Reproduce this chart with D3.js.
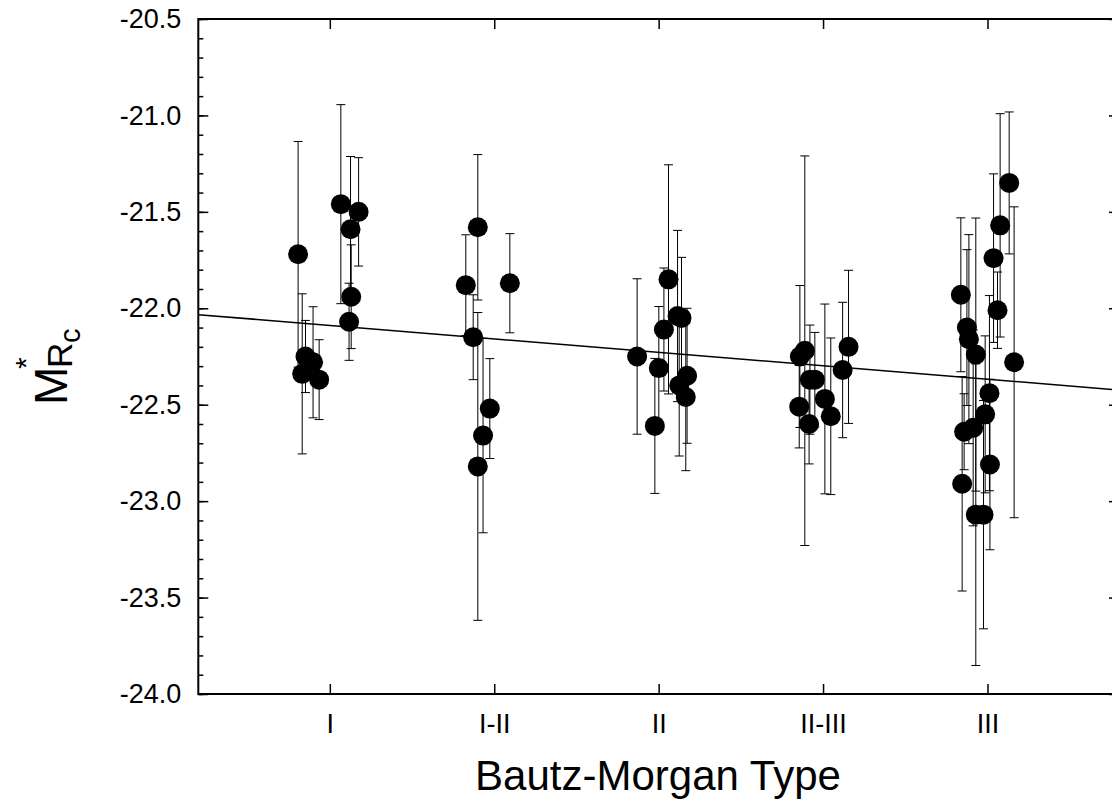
<!DOCTYPE html>
<html>
<head>
<meta charset="utf-8">
<script src="https://cdn.jsdelivr.net/npm/d3@7"></script>
<style>
  body { margin: 0; background: #fff; }
  svg { display: block; font-family: "Liberation Sans", Arial, sans-serif; }
  .axis path.domain { display: none; }
  .axis line { stroke: #000; stroke-width: 1.5; }
  .axis text { font-size: 27px; fill: #000; }
</style>
</head>
<body>
<script>
  var width = 1112;
  var height = 803;

  // Bautz-Morgan classes and their positions on the x axis
  var categories = ['I', 'I-II', 'II', 'II-III', 'III'];
  var catPos = [1, 2, 3, 4, 5];

  // y ticks
  var yMajor = [-20.5, -21.0, -21.5, -22.0, -22.5, -23.0, -23.5, -24.0];
  var yMinor = d3.range(-205, -241, -1).map(d => d / 10);

  // clusters: x position (slightly jittered around class), M*_Rc, error
  var bmX = [
    0.807, 0.852, 0.898, 0.832, 0.935, 1.067, 1.175, 1.126, 1.130, 1.117,
    1.900, 1.827, 2.095, 1.872, 1.973, 1.932, 1.900,
    2.869, 3.060, 3.032, 3.001, 2.977, 3.115, 3.139, 3.125, 3.173, 3.165,
    3.889, 3.859, 3.920, 3.950, 3.855, 3.915, 4.011, 4.047, 4.155, 4.119,
    5.132, 5.077, 5.037, 5.061, 4.838, 4.875, 4.887, 4.929, 5.162, 5.012,
    4.986, 4.858, 4.913, 5.015, 4.846, 4.929, 4.976
  ];
  var magR = [
    -21.72, -22.25, -22.28, -22.34, -22.37, -21.46, -21.50, -21.59, -21.94, -22.07,
    -21.58, -21.88, -21.87, -22.15, -22.52, -22.66, -22.82,
    -22.25, -21.85, -22.11, -22.31, -22.61, -22.04, -22.05, -22.40, -22.35, -22.46,
    -22.22, -22.25, -22.37, -22.37, -22.51, -22.60, -22.47, -22.56, -22.20, -22.32,
    -21.35, -21.57, -21.74, -22.01, -21.93, -22.10, -22.16, -22.24, -22.28, -22.44,
    -22.55, -22.64, -22.62, -22.81, -22.91, -23.07, -23.07
  ];
  var magErr = [
    0.585, 0.187, 0.288, 0.415, 0.207, 0.516, 0.281, 0.377, 0.269, 0.200,
    0.377, 0.261, 0.257, 0.220, 0.259, 0.504, 0.798,
    0.403, 0.594, 0.319, 0.319, 0.350, 0.444, 0.314, 0.366, 0.350, 0.382,
    1.010, 0.368, 0.283, 0.245, 0.214, 0.207, 0.492, 0.406, 0.397, 0.351,
    0.368, 0.579, 0.437, 0.198, 0.399, 0.404, 0.542, 0.708, 0.806, 0.506,
    0.407, 0.197, 0.508, 0.442, 0.556, 0.782, 0.592
  ];

  // linear fit
  var fitX = [0.2, 5.8];
  var fitY = [-22.033, -22.424];

  var plot = { left: 198.3, top: 19, right: 1119, bottom: 694 };

  var xScale = d3.scaleLinear().domain([0.2, 5.8]).range([plot.left, plot.right]);
  var yScale = d3.scaleLinear().domain([-20.5, -24.0]).range([plot.top, plot.bottom]);

  var svg = d3.select('body')
    .append('svg')
    .attr('width', width)
    .attr('height', height);

  svg.append('rect')
    .attr('width', width)
    .attr('height', height)
    .attr('fill', '#fff');

  svg.append('clipPath')
    .attr('id', 'plot-area')
    .append('rect')
    .attr('x', plot.left)
    .attr('y', plot.top)
    .attr('width', plot.right - plot.left)
    .attr('height', plot.bottom - plot.top);

  // error bars
  var bars = svg.append('g')
    .attr('stroke', '#000')
    .attr('stroke-width', 1)
    .attr('clip-path', 'url(#plot-area)');
  var capHalf = 4.5;
  bmX.forEach(function(xv, i) {
    var cx = xScale(xv);
    var y0 = yScale(magR[i] + magErr[i]);
    var y1 = yScale(magR[i] - magErr[i]);
    bars.append('line').attr('x1', cx).attr('x2', cx).attr('y1', y0).attr('y2', y1);
    bars.append('line').attr('x1', cx - capHalf).attr('x2', cx + capHalf).attr('y1', y0).attr('y2', y0);
    bars.append('line').attr('x1', cx - capHalf).attr('x2', cx + capHalf).attr('y1', y1).attr('y2', y1);
  });

  // fit line
  var line = d3.line()
    .x(d => xScale(d[0]))
    .y(d => yScale(d[1]));
  svg.append('path')
    .datum(d3.zip(fitX, fitY))
    .attr('d', line)
    .attr('fill', 'none')
    .attr('stroke', '#000')
    .attr('stroke-width', 1.5)
    .attr('clip-path', 'url(#plot-area)');

  // points
  svg.append('g')
    .selectAll('circle')
    .data(bmX)
    .join('circle')
    .attr('cx', d => xScale(d))
    .attr('cy', (d, i) => yScale(magR[i]))
    .attr('r', 10)
    .attr('fill', '#000');

  // axes (ticks drawn inward)
  svg.append('g')
    .attr('class', 'axis')
    .attr('transform', `translate(${plot.left}, 0)`)
    .call(d3.axisLeft(yScale).tickValues(yMinor).tickSize(-5).tickFormat(''));
  svg.append('g')
    .attr('class', 'axis')
    .attr('transform', `translate(${plot.left}, 0)`)
    .call(d3.axisLeft(yScale).tickValues(yMajor).tickSize(-10).tickPadding(17)
      .tickFormat(d => d.toFixed(1)));
  svg.append('g')
    .attr('class', 'axis')
    .attr('transform', `translate(${plot.right}, 0)`)
    .call(d3.axisRight(yScale).tickValues(yMinor).tickSize(-5).tickFormat(''));
  svg.append('g')
    .attr('class', 'axis')
    .attr('transform', `translate(${plot.right}, 0)`)
    .call(d3.axisRight(yScale).tickValues(yMajor).tickSize(-10).tickFormat(''));
  svg.append('g')
    .attr('class', 'axis')
    .attr('transform', `translate(0, ${plot.bottom})`)
    .call(d3.axisBottom(xScale).tickValues(catPos).tickSize(-10).tickPadding(20)
      .tickFormat((d, i) => categories[i]));
  svg.append('g')
    .attr('class', 'axis')
    .attr('transform', `translate(0, ${plot.top})`)
    .call(d3.axisTop(xScale).tickValues(catPos).tickSize(-10).tickFormat(''));

  // frame
  svg.append('rect')
    .attr('x', plot.left)
    .attr('y', plot.top)
    .attr('width', plot.right - plot.left)
    .attr('height', plot.bottom - plot.top)
    .attr('fill', 'none')
    .attr('stroke', '#000')
    .attr('stroke-width', 2);

  // axis titles
  svg.append('text')
    .attr('x', 658)
    .attr('y', 790)
    .attr('text-anchor', 'middle')
    .attr('font-size', 42)
    .text('Bautz-Morgan Type');

  // M^*_{R_c}, rotated; each piece placed on its own
  function vtext(px, py, size, str) {
    svg.append('text')
      .attr('transform', `translate(${px}, ${py}) rotate(-90)`)
      .attr('font-size', size)
      .text(str);
  }
  vtext(67, 405, 46, 'M');
  vtext(36, 369, 30, '*');
  vtext(72, 368, 35, 'R');
  vtext(80, 343, 29, 'c');
</script>
</body>
</html>
